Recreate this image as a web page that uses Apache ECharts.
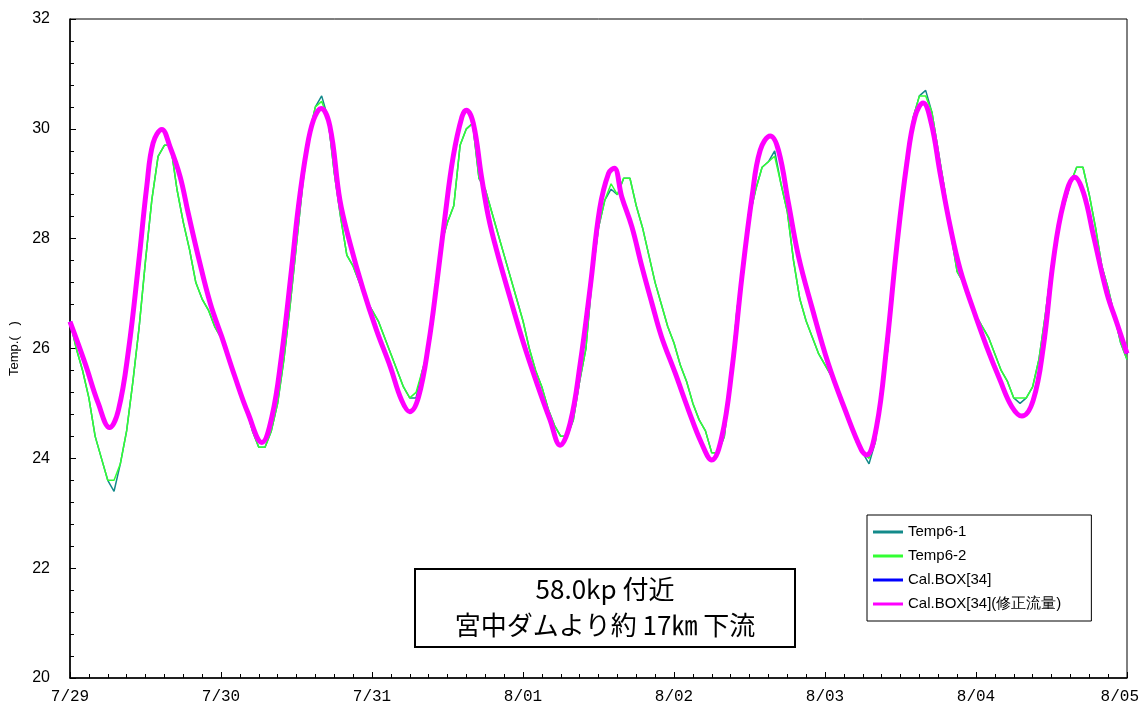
<!DOCTYPE html>
<html>
<head>
<meta charset="utf-8">
<title>58.0kp</title>
<script src="https://cdn.jsdelivr.net/npm/echarts@6/dist/echarts.min.js"></script>
<style>
  html, body { margin: 0; padding: 0; background: #fff; }
  #chart { width: 1141px; height: 711px; }
</style>
</head>
<body>
<div id="chart"></div>
<script>
// x labels (one per day, 24h apart)
const dayLabels = ['7/29', '7/30', '7/31', '8/01', '8/02', '8/03', '8/04', '8/05'];

// observed, hourly from 7/29 0:00
const temp61 = [
  26.5, 26.0, 25.6, 25.1, 24.4, 24.0, 23.6, 23.4, 23.9, 24.5, 25.4, 26.4, 27.6, 28.7, 29.5, 29.7, 29.7, 28.9, 28.3, 27.8, 27.2, 26.9, 26.7, 26.4,
  26.2, 25.9, 25.6, 25.2, 24.9, 24.5, 24.2, 24.2, 24.5, 25.0, 25.8, 26.8, 27.9, 29.0, 29.9, 30.4, 30.6, 30.2, 29.2, 28.4, 27.7, 27.5, 27.2, 26.9,
  26.7, 26.5, 26.2, 25.9, 25.6, 25.3, 25.1, 25.1, 25.6, 26.0, 27.0, 27.9, 28.3, 28.6, 29.7, 30.0, 30.1, 29.1, 28.9, 28.5, 28.1, 27.7, 27.3, 26.9,
  26.5, 26.0, 25.6, 25.3, 24.9, 24.6, 24.4, 24.4, 24.7, 25.4, 26.0, 27.3, 28.2, 28.7, 28.9, 28.8, 29.1, 29.1, 28.6, 28.2, 27.7, 27.2, 26.8, 26.4,
  26.1, 25.7, 25.4, 25.0, 24.7, 24.5, 24.1, 24.1, 24.4, 25.4, 26.7, 27.5, 28.4, 28.9, 29.3, 29.4, 29.6, 29.0, 28.5, 27.6, 26.9, 26.5, 26.2, 25.9,
  25.7, 25.5, 25.2, 24.9, 24.6, 24.3, 24.1, 23.9, 24.3, 25.2, 26.0, 27.3, 28.4, 29.4, 30.2, 30.6, 30.7, 30.3, 29.6, 28.9, 28.1, 27.4, 27.2, 26.9,
  26.6, 26.4, 26.2, 25.9, 25.6, 25.4, 25.1, 25.0, 25.1, 25.3, 25.8, 26.6, 27.5, 28.2, 28.6, 29.0, 29.3, 29.3, 28.8, 28.2, 27.5, 27.1, 26.6, 26.1, 25.8
];
const temp62 = [
  26.5, 26.0, 25.6, 25.1, 24.4, 24.0, 23.6, 23.6, 23.9, 24.5, 25.4, 26.4, 27.6, 28.7, 29.5, 29.7, 29.7, 28.9, 28.3, 27.8, 27.2, 26.9, 26.7, 26.4,
  26.2, 25.9, 25.6, 25.2, 24.9, 24.5, 24.2, 24.2, 24.5, 25.0, 25.8, 26.8, 27.9, 29.0, 29.9, 30.4, 30.5, 30.2, 29.2, 28.4, 27.7, 27.5, 27.2, 26.9,
  26.7, 26.5, 26.2, 25.9, 25.6, 25.3, 25.1, 25.2, 25.6, 26.0, 27.0, 27.9, 28.3, 28.6, 29.7, 30.0, 30.1, 29.1, 28.9, 28.5, 28.1, 27.7, 27.3, 26.9,
  26.5, 26.0, 25.6, 25.3, 24.9, 24.6, 24.4, 24.4, 24.7, 25.4, 26.0, 27.3, 28.2, 28.7, 29.0, 28.8, 29.1, 29.1, 28.6, 28.2, 27.7, 27.2, 26.8, 26.4,
  26.1, 25.7, 25.4, 25.0, 24.7, 24.5, 24.1, 24.1, 24.4, 25.4, 26.7, 27.5, 28.4, 28.9, 29.3, 29.4, 29.5, 29.0, 28.5, 27.6, 26.9, 26.5, 26.2, 25.9,
  25.7, 25.5, 25.2, 24.9, 24.6, 24.3, 24.1, 24.0, 24.3, 25.2, 26.0, 27.3, 28.4, 29.4, 30.2, 30.6, 30.6, 30.3, 29.6, 28.9, 28.1, 27.4, 27.2, 26.9,
  26.6, 26.4, 26.2, 25.9, 25.6, 25.4, 25.1, 25.1, 25.1, 25.3, 25.8, 26.6, 27.5, 28.2, 28.6, 29.0, 29.3, 29.3, 28.8, 28.2, 27.5, 27.1, 26.6, 26.1, 25.8
];

// calculated (hours since 7/29 0:00)
const calHours = [
  0, 2.4, 4.5, 6.3, 7.7, 9.3, 10.9, 12.2, 13.2, 14.6, 15.9, 17.5, 18.8, 20.4, 22.3,
  24.1, 26.2, 28.3, 30.5, 32.1, 33.6, 35.2, 36.3, 37.6, 38.7, 39.9, 41.3, 42.9, 44.5, 46.6,
  48.7, 50.9, 52.7, 54.0, 55.4, 57.0, 58.3, 59.6, 60.9, 62.3, 63.0, 64.1, 65.4, 66.5, 67.8, 69.9,
  72.1, 74.2, 76.3, 77.9, 79.5, 81.1, 82.7, 84.2, 85.6, 86.5, 87.7, 89.3, 90.9, 92.5, 94.0,
  96.2, 98.3, 100.4, 102.0, 103.6, 105.2, 106.8, 108.4, 109.7, 111.3, 112.6, 114.2, 115.8, 117.9,
  120.5, 123.2, 125.8, 126.6, 128.2, 129.8, 131.4, 133.0, 134.3, 135.6, 136.9, 138.3, 139.9, 141.5, 143.6,
  145.7, 147.8, 149.7, 151.3, 153.1, 154.7, 156.3, 157.9, 159.7, 161.1, 162.7, 164.8, 166.4, 168
];
const calValues = [
  26.49, 25.73, 25.0, 24.56, 24.88, 25.97, 27.55, 28.95, 29.74, 29.99, 29.67, 29.13, 28.46, 27.67, 26.82,
  26.22, 25.49, 24.82, 24.29, 24.76, 25.85, 27.43, 28.58, 29.61, 30.16, 30.37, 30.05, 28.70, 27.92, 27.07,
  26.34, 25.67, 25.06, 24.85, 25.12, 26.09, 27.19, 28.40, 29.49, 30.22, 30.34, 30.10, 29.13, 28.40, 27.79, 26.94,
  26.09, 25.37, 24.70, 24.24, 24.64, 25.73, 27.13, 28.55, 29.19, 29.28, 28.76, 28.22, 27.49, 26.82, 26.22,
  25.55, 24.88, 24.27, 23.97, 24.39, 25.61, 27.31, 28.76, 29.61, 29.87, 29.61, 28.64, 27.67, 26.76,
  25.73, 24.88, 24.15, 24.06, 24.58, 26.03, 27.85, 29.37, 30.22, 30.47, 30.10, 29.19, 28.22, 27.43, 26.70,
  26.03, 25.43, 24.94, 24.77, 25.06, 26.03, 27.61, 28.64, 29.12, 28.83, 28.04, 27.01, 26.46, 25.91
];

const obs1 = temp61.map((v, i) => [i, v]);
const obs2 = temp62.map((v, i) => [i, v]);
const cal = calHours.map((h, i) => [h, calValues[i]]);

const chart = echarts.init(document.getElementById('chart'));

chart.setOption({
  animation: false,
  backgroundColor: '#fff',
  grid: {
    left: 70, right: 14, top: 19, bottom: 33,
    outerBoundsMode: 'none',
    containLabel: false,
    show: true, borderColor: '#000', borderWidth: 1
  },
  legend: {
    orient: 'vertical',
    left: 867, top: 515,
    padding: [9, 30, 9, 6],
    icon: 'rect',
    itemWidth: 30, itemHeight: 3, itemGap: 8,
    backgroundColor: '#fff',
    borderColor: '#000', borderWidth: 1,
    textStyle: { fontFamily: 'Liberation Sans', fontSize: 15, color: '#000', lineHeight: 16 },
    data: ['Temp6-1', 'Temp6-2', 'Cal.BOX[34]', 'Cal.BOX[34](修正流量)']
  },
  xAxis: {
    type: 'value',
    min: 0, max: 168, interval: 24,
    axisLine: { lineStyle: { color: '#000', width: 1.5 } },
    axisTick: { inside: true, length: 6, lineStyle: { color: '#000' } },
    minorTick: { show: true, splitNumber: 8, length: 4, lineStyle: { color: '#000' } },
    splitLine: { show: false },
    axisLabel: {
      color: '#000', fontFamily: 'Liberation Mono', fontSize: 16, margin: 11,
      showMaxLabel: false,
      formatter: v => dayLabels[Math.round(v / 24)]
    }
  },
  yAxis: {
    type: 'value',
    min: 20, max: 32, interval: 2,
    name: 'Temp.(   )',
    nameLocation: 'middle', nameRotate: 90, nameGap: 43,
    nameTextStyle: { color: '#000', fontFamily: 'Liberation Sans', fontSize: 13 },
    axisLine: { show: true, lineStyle: { color: '#000', width: 1.5 } },
    axisTick: { inside: true, length: 6, lineStyle: { color: '#000' } },
    minorTick: { show: true, splitNumber: 5, length: 4, lineStyle: { color: '#000' } },
    splitLine: { show: false },
    axisLabel: { color: '#000', fontFamily: 'Liberation Sans', fontSize: 16, margin: 20 }
  },
  series: [
    {
      name: 'Temp6-1', type: 'line', data: obs1, symbol: 'none',
      lineStyle: { color: '#138a8a', width: 1.5 }, itemStyle: { color: '#138a8a' }
    },
    {
      name: 'Temp6-2', type: 'line', data: obs2, symbol: 'none',
      lineStyle: { color: '#33ff33', width: 1.5 }, itemStyle: { color: '#33ff33' }
    },
    {
      name: 'Cal.BOX[34]', type: 'line', data: cal, symbol: 'none', smooth: 0.4,
      lineStyle: { color: '#0000ff', width: 3 }, itemStyle: { color: '#0000ff' }
    },
    {
      name: 'Cal.BOX[34](修正流量)', type: 'line', data: cal, symbol: 'none', smooth: 0.4,
      lineStyle: { color: '#ff00ff', width: 5 }, itemStyle: { color: '#ff00ff' }
    }
  ],
  graphic: [
    {
      // last date label, pulled in so it fits the page
      type: 'text',
      right: 2, top: 689,
      style: {
        text: dayLabels[dayLabels.length - 1],
        fontFamily: 'Liberation Mono', fontSize: 16, fill: '#000'
      }
    },
    {
      type: 'rect',
      shape: { x: 415, y: 569, width: 380, height: 78 },
      style: { fill: '#fff', stroke: '#000', lineWidth: 2 },
      z: 100
    },
    {
      type: 'text',
      x: 605, y: 607,
      style: {
        text: '58.0kp 付近\n宮中ダムより約 17㎞ 下流',
        fontFamily: 'Noto Sans CJK JP', fontSize: 26, lineHeight: 36,
        fill: '#000', align: 'center', verticalAlign: 'middle'
      },
      z: 101
    }
  ]
});
</script>
</body>
</html>
